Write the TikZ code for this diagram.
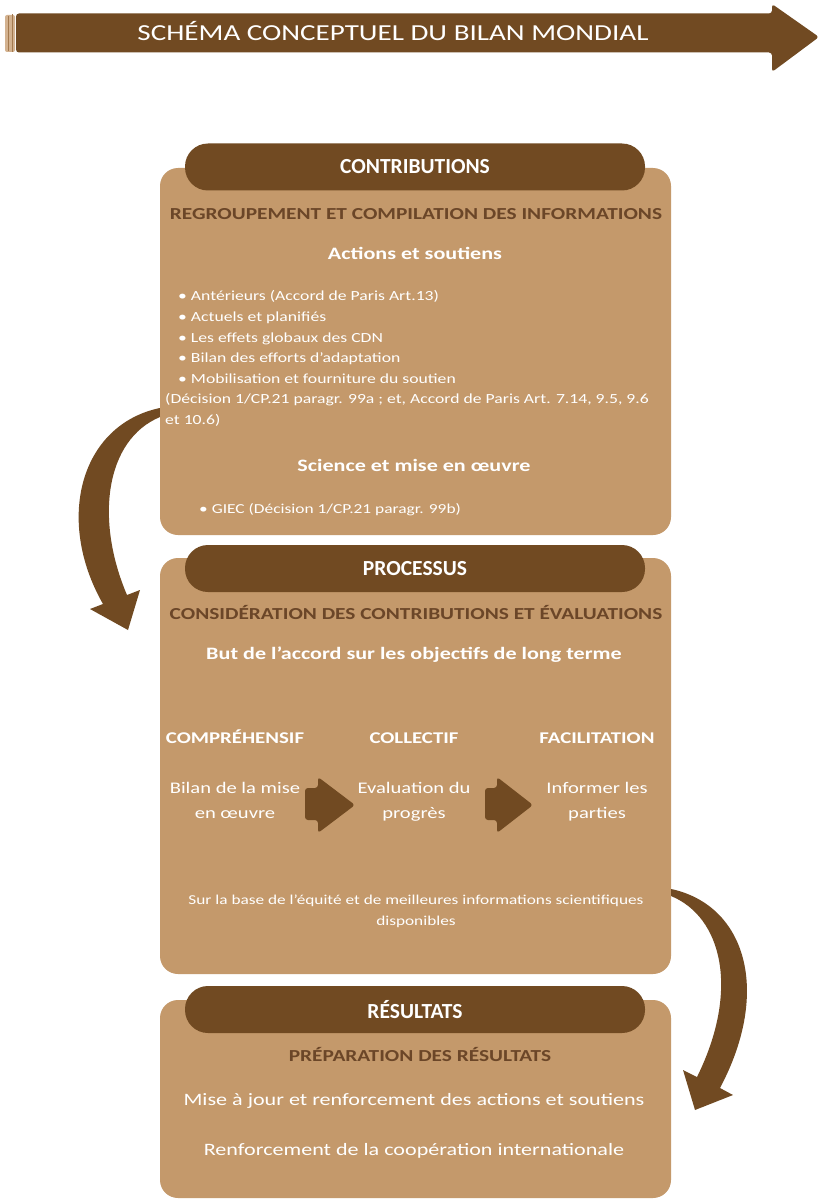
\documentclass[tikz,border=0pt]{standalone}
\usepackage{fontspec}
\setmainfont{Carlito}[FakeStretch=1.27]
\newfontfamily\pillfont{Carlito}
\definecolor{dark}{HTML}{714A22}
\definecolor{tanbox}{HTML}{C4996B}
\definecolor{subt}{HTML}{6B4628}
\begin{document}
\begin{tikzpicture}[x=1pt,y=-1pt,
  box/.style={fill=tanbox, rounded corners=18pt, minimum width=511pt, inner sep=0pt},
  pill/.style={fill=dark, rounded corners=23pt, minimum width=460pt, minimum height=47pt, inner sep=0pt, text=white, font=\pillfont\fontsize{21.5}{24}\selectfont\bfseries},
  sub/.style={anchor=base, text=subt, font=\fontsize{16.8}{20}\selectfont\bfseries, inner sep=0pt},
  wbold/.style={anchor=base, text=white, font=\fontsize{17.4}{20}\selectfont\bfseries, inner sep=0pt},
  wtxt/.style={anchor=base, text=white, inner sep=0pt, align=center},
  harrow/.style={fill=dark, rounded corners=3pt},
  curved/.style={fill=dark}
]
\fill[white] (0,0) rectangle (819,1201);
\useasboundingbox (0,0) rectangle (819,1201);

% banner
\fill[tanbox!75!white, rounded corners=2pt] (5,15) rectangle (15,52);
\draw[tanbox!60!dark, line width=0.8pt] (8.5,16) -- (8.5,51);
\draw[tanbox!60!dark, line width=0.8pt] (12.5,14.5) -- (12.5,52.5);
\fill[dark, rounded corners=3pt] (16,13.5) -- (772,13.5) -- (772,4) -- (819,37) -- (772,72) -- (772,52.5) -- (16,52.5) -- cycle;
\node[wtxt, font=\fontsize{22.9}{26}\selectfont] (title) at (393,41) {SCHÉMA CONCEPTUEL DU BILAN MONDIAL};

% box 1
\node[box, minimum height=367pt] (b1) at (415.5,351.5) {};
\node[pill] (p1) at (415,167) {CONTRIBUTIONS};
\node[sub] (s1) at (416,219) {REGROUPEMENT ET COMPILATION DES INFORMATIONS};
\node[wbold] (a1) at (415,259) {Actions et soutiens};
\node[anchor=base west, text=white, inner sep=0pt, align=left, font=\fontsize{13.9}{20.6}\selectfont] (list1) at (165,424.5)
 {\hspace*{13pt}• Antérieurs (Accord de Paris Art.13)\\
  \hspace*{13pt}• Actuels et planifiés\\
  \hspace*{13pt}• Les effets globaux des CDN\\
  \hspace*{13pt}• Bilan des efforts d’adaptation\\
  \hspace*{13pt}• Mobilisation et fourniture du soutien\\
  (Décision 1/CP.21 paragr. 99a ; et, Accord de Paris Art. 7.14, 9.5, 9.6\\
  et 10.6)};
\node[wbold] (sc1) at (414,471) {Science et mise en œuvre};
\node[anchor=base west, text=white, inner sep=0pt, font=\fontsize{13.7}{20}\selectfont] (giec) at (199,513) {• GIEC (Décision 1/CP.21 paragr. 99b)};

% box 2
\node[box, minimum height=416pt] (b2) at (415.5,766) {};
\node[pill] (p2) at (415,568.5) {PROCESSUS};
\node[sub] (s2) at (416,619) {CONSIDÉRATION DES CONTRIBUTIONS ET ÉVALUATIONS};
\node[wbold] (but) at (414,659) {But de l’accord sur les objectifs de long terme};
\node[wtxt, font=\fontsize{16.4}{20}\selectfont\bfseries] (c1) at (235,743) {COMPRÉHENSIF};
\node[wtxt, font=\fontsize{16.4}{20}\selectfont\bfseries] (c2) at (414,743) {COLLECTIF};
\node[wtxt, font=\fontsize{16.4}{20}\selectfont\bfseries] (c3) at (597,743) {FACILITATION};
\node[wtxt, font=\fontsize{16.2}{25}\selectfont] (t1) at (235,818) {Bilan de la mise\\en œuvre};
\node[wtxt, font=\fontsize{16.2}{25}\selectfont] (t2) at (414,818) {Evaluation du\\progrès};
\node[wtxt, font=\fontsize{16.2}{25}\selectfont] (t3) at (597,818) {Informer les\\parties};
\fill[harrow] (305,788) -- (318,788) -- (318,777) -- (355,805) -- (318,833) -- (318,820) -- (305,820) -- cycle;
\fill[harrow] (485,788) -- (497,788) -- (497,777) -- (533,805) -- (497,833) -- (497,820) -- (485,820) -- cycle;
\node[wtxt, font=\fontsize{13.6}{21}\selectfont] (base) at (416,925) {Sur la base de l’équité et de meilleures informations scientifiques\\disponibles};

% box 3
\node[box, minimum height=198pt] (b3) at (415.5,1099) {};
\node[pill] (p3) at (415,1009.5) {RÉSULTATS};
\node[sub] (s3) at (420,1061.5) {PRÉPARATION DES RÉSULTATS};
\node[wtxt, font=\fontsize{17.4}{20}\selectfont] (r1) at (414,1105.5) {Mise à jour et renforcement des actions et soutiens};
\node[wtxt, font=\fontsize{17.4}{20}\selectfont] (r2) at (414,1155.5) {Renforcement de la coopération internationale};

% curved arrows
\coordinate (lstart) at (b1.west |- 0,408);
\fill[curved] (lstart) .. controls (80,425) and (55,520) .. (103,604) -- (90,609) -- (128,630) -- (140,590) -- (127,595)
  .. controls (95,520) and (105,440) .. (160,417) -- cycle;
\coordinate (rstart) at (b2.east |- 0,889);
\fill[curved] (rstart) .. controls (745,905) and (772,990) .. (720,1088) -- (733,1095) -- (695,1110) -- (683,1070) -- (697,1077)
  .. controls (740,990) and (722,917) .. (671,896) -- cycle;
\end{tikzpicture}
\end{document}
